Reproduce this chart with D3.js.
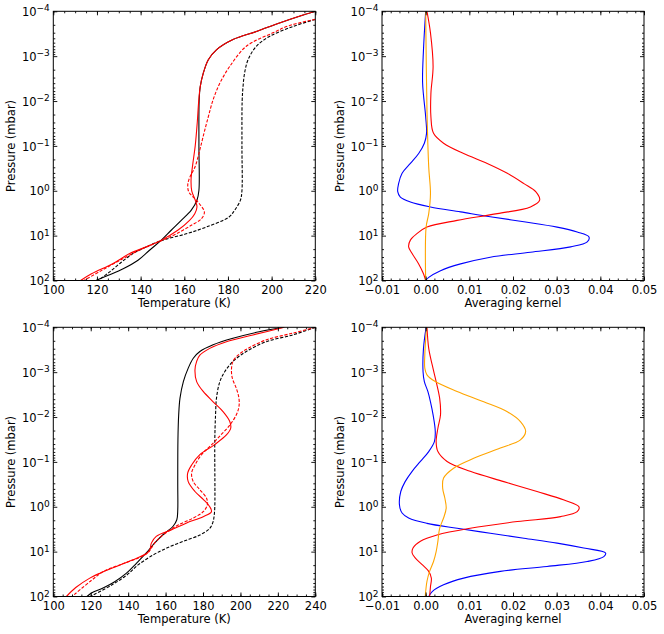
<!DOCTYPE html>
<html>
<head>
<meta charset="utf-8">
<script src="https://cdn.jsdelivr.net/npm/d3@7"></script>
<style>
  html, body { margin: 0; padding: 0; background: #fff; }
  svg { display: block; }
  text { font-family: "DejaVu Sans", sans-serif; }
</style>
</head>
<body>
<svg id="chart" width="664" height="634"></svg>
<script>
// ---------------- DATA (value, log10 pressure [mbar]) ----------------
// Top-left: temperature profiles
const tlBlackSolid = [[220,-4.0],[212.7,-3.89],[203.6,-3.74],[193,-3.55],[182.3,-3.37],[174.7,-3.14],[171,-2.92],[168.7,-2.62],[167.3,-2.32],[166.8,-2.0],[166.7,-1.0],[166.7,-0.01],[165.8,0.21],[163.2,0.43],[158.6,0.66],[154,0.88],[149.5,1.10],[144.2,1.32],[138.8,1.55],[132,1.74],[125.5,1.88],[119.5,2.0]];
const tlBlackDashed = [[220,-3.82],[209.7,-3.66],[199,-3.44],[193,-3.22],[189.2,-2.92],[187.6,-2.62],[186.9,-2.32],[186.5,-2.0],[186.4,-1.0],[186.4,0.0],[185.7,0.21],[183.1,0.43],[180.5,0.585],[170,0.81],[160.9,0.96],[150.2,1.10],[142.6,1.25],[136.5,1.40],[131,1.60],[125.5,1.82],[120.5,2.0]];
const tlRedSolid = [[220,-4.0],[212.7,-3.89],[203.6,-3.74],[193,-3.55],[182.3,-3.37],[174.7,-3.14],[171,-2.92],[168.7,-2.62],[167.3,-2.32],[166.6,-2.0],[165.9,-1.5],[165.0,-1.0],[163.9,-0.6],[163.1,-0.25],[163.4,0.0],[165.0,0.21],[165.8,0.36],[164.8,0.51],[162.4,0.66],[157,0.88],[149.5,1.10],[142.6,1.25],[135,1.40],[127.4,1.62],[117.5,1.85],[112.5,2.0]];
const tlRedDashed = [[220,-3.82],[208,-3.68],[200.6,-3.52],[188.4,-3.22],[180.8,-2.77],[176.3,-2.40],[173.2,-2.03],[171,-1.65],[169,-1.28],[167.1,-0.91],[164.9,-0.53],[162.6,-0.31],[161.6,-0.14],[162.0,0.02],[164.3,0.15],[166.9,0.29],[169.2,0.47],[167.9,0.62],[163.2,0.77],[156.3,0.96],[150.2,1.10],[139.6,1.32],[130.5,1.55],[122,1.78],[114,2.0]];

// Bottom-left: temperature profiles
const blBlackSolid = [[223,-4.0],[210,-3.90],[196,-3.755],[185.4,-3.61],[178.3,-3.46],[174.8,-3.31],[172.1,-3.09],[169.5,-2.79],[167.7,-2.42],[167,-2.05],[166.6,-1.5],[166.5,-0.5],[166.5,0.07],[166,0.29],[163.9,0.44],[159.5,0.59],[154.1,0.81],[149.7,1.03],[144.4,1.26],[139.1,1.48],[132.8,1.67],[126.6,1.81],[120.4,1.92],[118,2.0]];
const blBlackDashed = [[240,-4.0],[228,-3.83],[213.8,-3.68],[203.1,-3.46],[196,-3.24],[191.6,-3.01],[189,-2.79],[187.2,-2.42],[186.7,-2.05],[186.3,-1.5],[186.3,0.0],[186,0.18],[185.4,0.33],[183.6,0.48],[178.3,0.63],[169.5,0.77],[160.6,0.92],[153.5,1.07],[145.5,1.29],[139.3,1.52],[131.4,1.74],[119.8,2.0]];
const blRedSolid = [[223.5,-4.0],[206.7,-3.83],[192.5,-3.68],[183.6,-3.53],[178.3,-3.38],[176.6,-3.24],[175.7,-3.05],[176.6,-2.79],[180.1,-2.57],[185.4,-2.34],[190.7,-2.12],[194.3,-1.90],[194.8,-1.75],[192.5,-1.60],[186,-1.38],[178.3,-1.16],[173.9,-0.93],[171.8,-0.75],[172.1,-0.56],[175.7,-0.34],[180.5,-0.15],[183.6,0.0],[184.5,0.11],[180.1,0.22],[171,0.365],[163,0.515],[155,0.66],[152.4,0.81],[151.6,0.96],[150.2,1.03],[142.6,1.18],[133.7,1.33],[124.9,1.48],[119.5,1.59],[112,1.80],[107,2.0]];
const blRedDashed = [[240,-4.0],[228,-3.87],[213.8,-3.72],[204,-3.53],[198.7,-3.38],[196,-3.24],[195.2,-3.05],[195.7,-2.86],[197.8,-2.64],[199.2,-2.42],[199.2,-2.23],[197.8,-2.05],[194.3,-1.82],[189.5,-1.60],[184.5,-1.38],[179.2,-1.16],[175.7,-0.93],[173.9,-0.75],[174.8,-0.56],[178.3,-0.38],[181.9,-0.19],[182.3,-0.04],[180.1,0.11],[174.8,0.25],[167,0.40],[163,0.50],[157.7,0.66],[154.1,0.81],[151.8,0.96],[150.4,1.03],[145.5,1.14],[135.8,1.29],[126.9,1.44],[119.8,1.66],[110,2.0]];

// Top-right: averaging kernels
const trBlue = [[0,-4],[-0.0005,-3.14],[-0.0007,-2.40],[0,-1.65],[0.0002,-1.28],[-0.0003,-1.06],[-0.0016,-0.83],[-0.0035,-0.61],[-0.0054,-0.39],[-0.0062,-0.16],[-0.0064,0.02],[-0.0058,0.14],[-0.0035,0.25],[0.0011,0.36],[0.008,0.47],[0.0148,0.58],[0.0225,0.69],[0.0301,0.81],[0.0347,0.92],[0.0374,1.03],[0.037,1.14],[0.0332,1.25],[0.024,1.37],[0.0148,1.48],[0.008,1.63],[0.0034,1.78],[0.0007,1.93],[0,2.0]];
const trRed = [[0.0003,-4],[0.0011,-3.52],[0.0017,-2.77],[0.0012,-2.17],[0.0012,-1.65],[0.0018,-1.28],[0.0041,-1.06],[0.0087,-0.83],[0.0141,-0.61],[0.0187,-0.39],[0.0225,-0.16],[0.0252,0.02],[0.0261,0.21],[0.024,0.36],[0.0164,0.51],[0.0072,0.66],[0.0003,0.81],[-0.002,0.955],[-0.0035,1.10],[-0.0039,1.25],[-0.0031,1.40],[-0.0016,1.63],[-0.0005,1.85],[0,2.0]];
const trOrange = [[0,-4],[0.0003,-1.8],[0.0007,-0.53],[0.0011,0.06],[0.0007,0.51],[0.0001,0.81],[0,2.0]];

// Bottom-right: averaging kernels
const brBlue = [[0.0001,-4],[-0.0005,-3.53],[-0.0006,-3.01],[-0.0003,-2.79],[0.0005,-2.57],[0.0011,-2.34],[0.0017,-2.05],[0.0022,-1.68],[0.002,-1.45],[0.0007,-1.23],[-0.0012,-1.01],[-0.0031,-0.79],[-0.0047,-0.56],[-0.0057,-0.34],[-0.006,-0.04],[-0.0054,0.14],[-0.0039,0.25],[0.0003,0.37],[0.0072,0.48],[0.0148,0.59],[0.0225,0.70],[0.0301,0.81],[0.0362,0.92],[0.0412,1.03],[0.0408,1.11],[0.037,1.22],[0.0278,1.33],[0.0171,1.44],[0.0087,1.59],[0.0041,1.74],[0.0015,1.89],[0.0007,2.0]];
const brRed = [[0.0003,-4],[0.0007,-3.53],[0.0015,-3.16],[0.0024,-2.79],[0.0032,-2.42],[0.0034,-2.05],[0.0028,-1.75],[0.0024,-1.45],[0.0028,-1.23],[0.0049,-1.01],[0.0102,-0.79],[0.0179,-0.56],[0.0255,-0.34],[0.0317,-0.15],[0.0351,0.0],[0.0347,0.11],[0.0309,0.22],[0.021,0.33],[0.0102,0.48],[0.0026,0.63],[-0.0012,0.77],[-0.0029,0.92],[-0.0031,1.03],[-0.0024,1.14],[-0.0008,1.29],[0.0007,1.44],[0.0013,1.59],[0.0011,1.78],[0.0009,2.0]];
const brOrange = [[0.0002,-4],[-0.0002,-3.38],[-0.0002,-3.09],[0.0003,-2.94],[0.0022,-2.79],[0.0072,-2.57],[0.0133,-2.34],[0.0187,-2.12],[0.0217,-1.90],[0.0229,-1.68],[0.0217,-1.49],[0.0171,-1.31],[0.011,-1.08],[0.0064,-0.86],[0.0041,-0.64],[0.0039,-0.41],[0.0044,-0.19],[0.0047,0.03],[0.0041,0.25],[0.0032,0.48],[0.0028,0.77],[0.0024,1.0],[0.0018,1.22],[0.0009,1.44],[0.0003,1.66],[-0.0001,2.0]];

// Ticks
const pressureTicks = [1e-4, 1e-3, 1e-2, 1e-1, 1e0, 1e1, 1e2];
const pressureExponents = ["\u22124", "\u22123", "\u22122", "\u22121", "0", "1", "2"];
const tempTicksTop = [100, 120, 140, 160, 180, 200, 220];
const tempTicksBottom = [100, 120, 140, 160, 180, 200, 220, 240];
const kernelTicks = [-0.01, 0, 0.01, 0.02, 0.03, 0.04, 0.05];
const kernelLabels = ["\u22120.01", "0.00", "0.01", "0.02", "0.03", "0.04", "0.05"];

// ---------------- DRAWING ----------------
const svg = d3.select("#chart");
const FONT = 11.5;
const colors = { black: "#000000", red: "#ff0000", blue: "#0000ff", orange: "#ffa500" };

function minorLog() {
  const out = [];
  for (let k = -4; k < 2; k++) for (let m = 2; m <= 9; m++) out.push(m * Math.pow(10, k));
  return out;
}
function minorLinear(domain, step) {
  const out = [];
  const n = Math.round((domain[1] - domain[0]) / step);
  for (let i = 0; i <= n; i++) out.push(domain[0] + i * step);
  return out;
}

let clipId = 0;
function panel(opts) {
  const { left, top, width, height, xDomain, xMajor, xLabels, xMinorStep, xTitle, series } = opts;
  const x = d3.scaleLinear().domain(xDomain).range([left, left + width]);
  const y = d3.scaleLog().domain([1e-4, 1e2]).range([top, top + height]);
  const g = svg.append("g");

  const cid = "clip" + (clipId++);
  g.append("clipPath").attr("id", cid).append("rect")
    .attr("x", left).attr("y", top).attr("width", width).attr("height", height);

  const line = d3.line()
    .x(d => x(d[0]))
    .y(d => y(Math.pow(10, d[1])))
    .curve(d3.curveCatmullRom.alpha(0.5));

  const lines = g.append("g").attr("clip-path", `url(#${cid})`);
  series.forEach(s => {
    lines.append("path")
      .attr("d", line(s.data))
      .attr("fill", "none")
      .attr("stroke", s.color)
      .attr("stroke-width", 1.1)
      .attr("stroke-dasharray", s.dash ? "3.2,1.6" : null);
  });

  const xMinor = minorLinear(xDomain, xMinorStep);
  const yMinor = minorLog();

  function styleAxis(sel) {
    sel.select(".domain").remove();
    sel.selectAll(".tick line").attr("stroke", "#000").attr("stroke-width", 0.9);
  }

  // bottom axis
  const bottom = g.append("g").attr("transform", `translate(0,${top + height})`);
  bottom.call(d3.axisBottom(x).tickValues(xMinor).tickSize(-2).tickFormat("")).call(styleAxis);
  const bMaj = g.append("g").attr("transform", `translate(0,${top + height})`);
  bMaj.call(d3.axisBottom(x).tickValues(xMajor).tickSize(-4).tickPadding(5.3)
      .tickFormat((d, i) => xLabels[i])).call(styleAxis);
  bMaj.selectAll(".tick text").attr("font-size", FONT).attr("font-family", "DejaVu Sans").attr("fill", "#000");

  // top axis
  g.append("g").attr("transform", `translate(0,${top})`)
    .call(d3.axisTop(x).tickValues(xMinor).tickSize(-2).tickFormat("")).call(styleAxis);
  g.append("g").attr("transform", `translate(0,${top})`)
    .call(d3.axisTop(x).tickValues(xMajor).tickSize(-4).tickFormat("")).call(styleAxis);

  // left axis
  g.append("g").attr("transform", `translate(${left},0)`)
    .call(d3.axisLeft(y).tickValues(yMinor).tickSize(-2).tickFormat("")).call(styleAxis);
  const lMaj = g.append("g").attr("transform", `translate(${left},0)`);
  lMaj.call(d3.axisLeft(y).tickValues(pressureTicks).tickSize(-4).tickPadding(3.5).tickFormat(() => "")).call(styleAxis);
  lMaj.selectAll(".tick text").each(function (d, i) {
    const t = d3.select(this);
    t.attr("font-size", FONT).attr("font-family", "DejaVu Sans").attr("fill", "#000").attr("dy", "0.36em");
    t.text(null);
    t.append("tspan").text("10");
    t.append("tspan").attr("font-size", 9).attr("dy", -4.6).text(pressureExponents[i]);
  });

  // right axis
  g.append("g").attr("transform", `translate(${left + width},0)`)
    .call(d3.axisRight(y).tickValues(yMinor).tickSize(-2).tickFormat("")).call(styleAxis);
  g.append("g").attr("transform", `translate(${left + width},0)`)
    .call(d3.axisRight(y).tickValues(pressureTicks).tickSize(-4).tickFormat("")).call(styleAxis);

  // frame
  g.append("rect").attr("x", left).attr("y", top).attr("width", width).attr("height", height)
    .attr("fill", "none").attr("stroke", "#000").attr("stroke-width", 1);

  // titles
  g.append("text").attr("x", left + width / 2).attr("y", top + height + 26.6)
    .attr("text-anchor", "middle").attr("font-size", FONT).text(xTitle);
  g.append("text")
    .attr("transform", `translate(${left - 38.5},${top + height / 2}) rotate(-90)`)
    .attr("text-anchor", "middle").attr("font-size", FONT).text("Pressure (mbar)");
}

const L1 = 53.3, L2 = 382, W = 262, T1 = 11.3, T2 = 327.3, H = 269.2;

panel({ left: L1, top: T1, width: W, height: H, xDomain: [100, 220], xMajor: tempTicksTop,
  xLabels: tempTicksTop.map(String), xMinorStep: 5, xTitle: "Temperature (K)",
  series: [
    { data: tlBlackSolid, color: colors.black },
    { data: tlBlackDashed, color: colors.black, dash: true },
    { data: tlRedSolid, color: colors.red },
    { data: tlRedDashed, color: colors.red, dash: true }
  ] });

panel({ left: L2, top: T1, width: W, height: H, xDomain: [-0.01, 0.05], xMajor: kernelTicks,
  xLabels: kernelLabels, xMinorStep: 0.002, xTitle: "Averaging kernel",
  series: [
    { data: trBlue, color: colors.blue },
    { data: trRed, color: colors.red },
    { data: trOrange, color: colors.orange }
  ] });

panel({ left: L1, top: T2, width: W, height: H, xDomain: [100, 240], xMajor: tempTicksBottom,
  xLabels: tempTicksBottom.map(String), xMinorStep: 5, xTitle: "Temperature (K)",
  series: [
    { data: blBlackSolid, color: colors.black },
    { data: blBlackDashed, color: colors.black, dash: true },
    { data: blRedSolid, color: colors.red },
    { data: blRedDashed, color: colors.red, dash: true }
  ] });

panel({ left: L2, top: T2, width: W, height: H, xDomain: [-0.01, 0.05], xMajor: kernelTicks,
  xLabels: kernelLabels, xMinorStep: 0.002, xTitle: "Averaging kernel",
  series: [
    { data: brBlue, color: colors.blue },
    { data: brRed, color: colors.red },
    { data: brOrange, color: colors.orange }
  ] });
</script>
</body>
</html>
